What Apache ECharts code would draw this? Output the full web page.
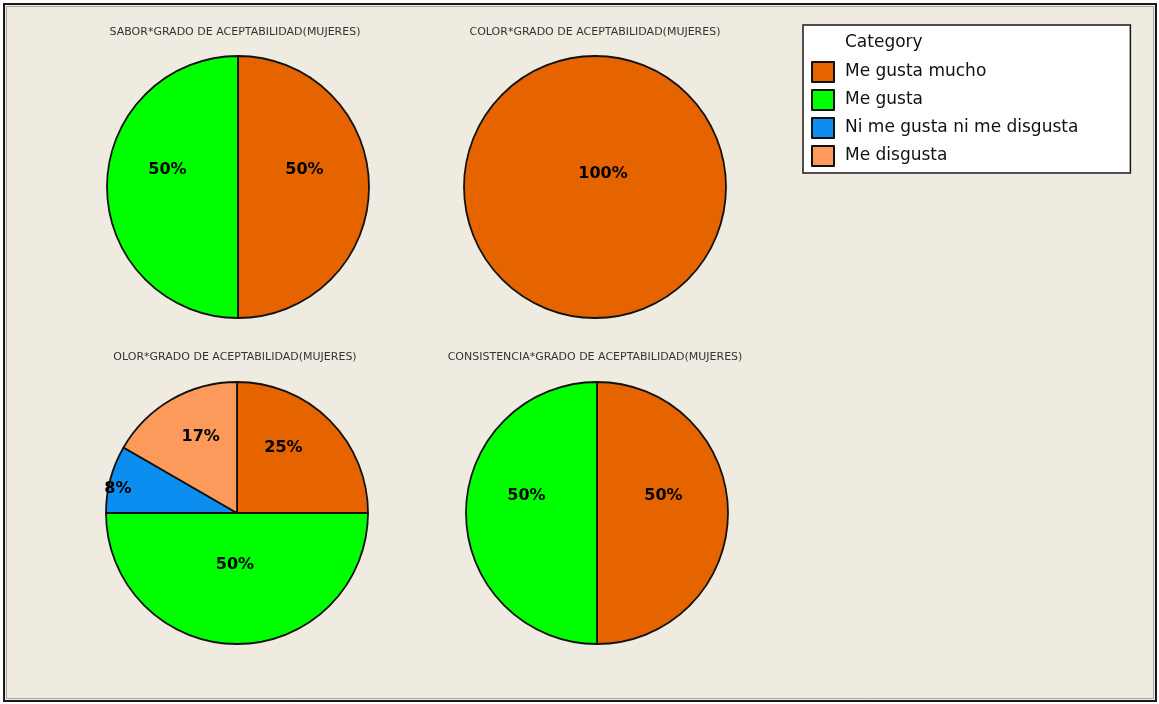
<!DOCTYPE html>
<html>
<head>
<meta charset="utf-8">
<script src="https://cdn.jsdelivr.net/npm/echarts@6/dist/echarts.min.js"></script>
<style>
  html, body { margin: 0; padding: 0; background: #ffffff; }
  #chart { width: 1159px; height: 704px; }
</style>
</head>
<body>
<div id="chart"></div>
<script>
// categories (legend order)
const categories = ['Me gusta mucho', 'Me gusta', 'Ni me gusta ni me disgusta', 'Me disgusta'];
const colors = ['#e66400', '#00ff00', '#0c8ef0', '#fc9a5c'];

// percentages per attribute, same order as categories
const sabor = [50, 50, 0, 0];
const colorVals = [100, 0, 0, 0];
const olor = [25, 50, 8.33, 16.67];
const consistencia = [50, 50, 0, 0];

const titles = [
  'SABOR*GRADO DE ACEPTABILIDAD(MUJERES)',
  'COLOR*GRADO DE ACEPTABILIDAD(MUJERES)',
  'OLOR*GRADO DE ACEPTABILIDAD(MUJERES)',
  'CONSISTENCIA*GRADO DE ACEPTABILIDAD(MUJERES)'
];
const panels = [sabor, colorVals, olor, consistencia];

const font = 'DejaVu Sans';
const centers = [[238, 187], [595, 187], [237, 513], [597, 513]];
const titlePos = [[235, 27], [595, 27], [235, 352], [595, 352]];

const chart = echarts.init(document.getElementById('chart'));

const buildData = (vals) => {
  const total = vals.reduce((a, b) => a + b, 0);
  return vals.map((v, i) => {
    const item = { name: categories[i], value: v, itemStyle: { color: colors[i] } };
    // small slice label sits near the rim
    if (v > 0 && v / total < 0.1) item.label = { offset: [-53, -6] };
    if (v === total) item.label = { position: 'center', offset: [8, -13] };
    return item;
  }).filter((d) => d.value > 0);
};

const option = {
  animation: false,
  backgroundColor: 'transparent',
  graphic: [
    {
      type: 'rect', z: 0,
      shape: { x: 4, y: 4, width: 1152, height: 697 },
      style: { fill: '#efebe1', stroke: '#1a1a1a', lineWidth: 2 }
    },
    {
      type: 'rect', z: 0,
      shape: { x: 6.5, y: 6.5, width: 1147, height: 692 },
      style: { fill: 'transparent', stroke: '#a8a8a8', lineWidth: 1 }
    }
  ],
  title: titles.map((t, i) => ({
    text: t,
    left: titlePos[i][0],
    top: titlePos[i][1],
    textAlign: 'center',
    padding: 0,
    textStyle: { fontFamily: font, fontSize: 11, fontWeight: 'normal', color: '#333' }
  })).concat([{
    text: 'Category',
    left: 845,
    top: 34,
    padding: 0,
    textStyle: { fontFamily: font, fontSize: 17, fontWeight: 'normal', color: '#111' }
  }]),
  legend: {
    orient: 'vertical',
    left: 803,
    top: 25,
    padding: [36, 52, 6, 8],
    itemWidth: 22,
    itemHeight: 20,
    itemGap: 6,
    icon: 'rect',
    backgroundColor: '#ffffff',
    borderColor: '#1a1a1a',
    borderWidth: 1.5,
    borderRadius: 0,
    data: categories,
    textStyle: { fontFamily: font, fontSize: 17, color: '#111', padding: [0, 0, 0, 6] }
  },
  series: panels.map((vals, i) => ({
    name: titles[i],
    type: 'pie',
    center: centers[i],
    radius: 131,
    startAngle: 90,
    clockwise: true,
    avoidLabelOverlap: false,
    emphasis: { disabled: true },
    itemStyle: { borderColor: '#111', borderWidth: 1.8 },
    label: {
      show: true,
      position: 'inside',
      offset: [-2, -17],
      formatter: (p) => Math.round(p.percent) + '%',
      fontFamily: font,
      fontSize: 16,
      fontWeight: 'bold',
      color: '#000'
    },
    labelLine: { show: false },
    data: buildData(vals)
  }))
};

chart.setOption(option);
</script>
</body>
</html>
